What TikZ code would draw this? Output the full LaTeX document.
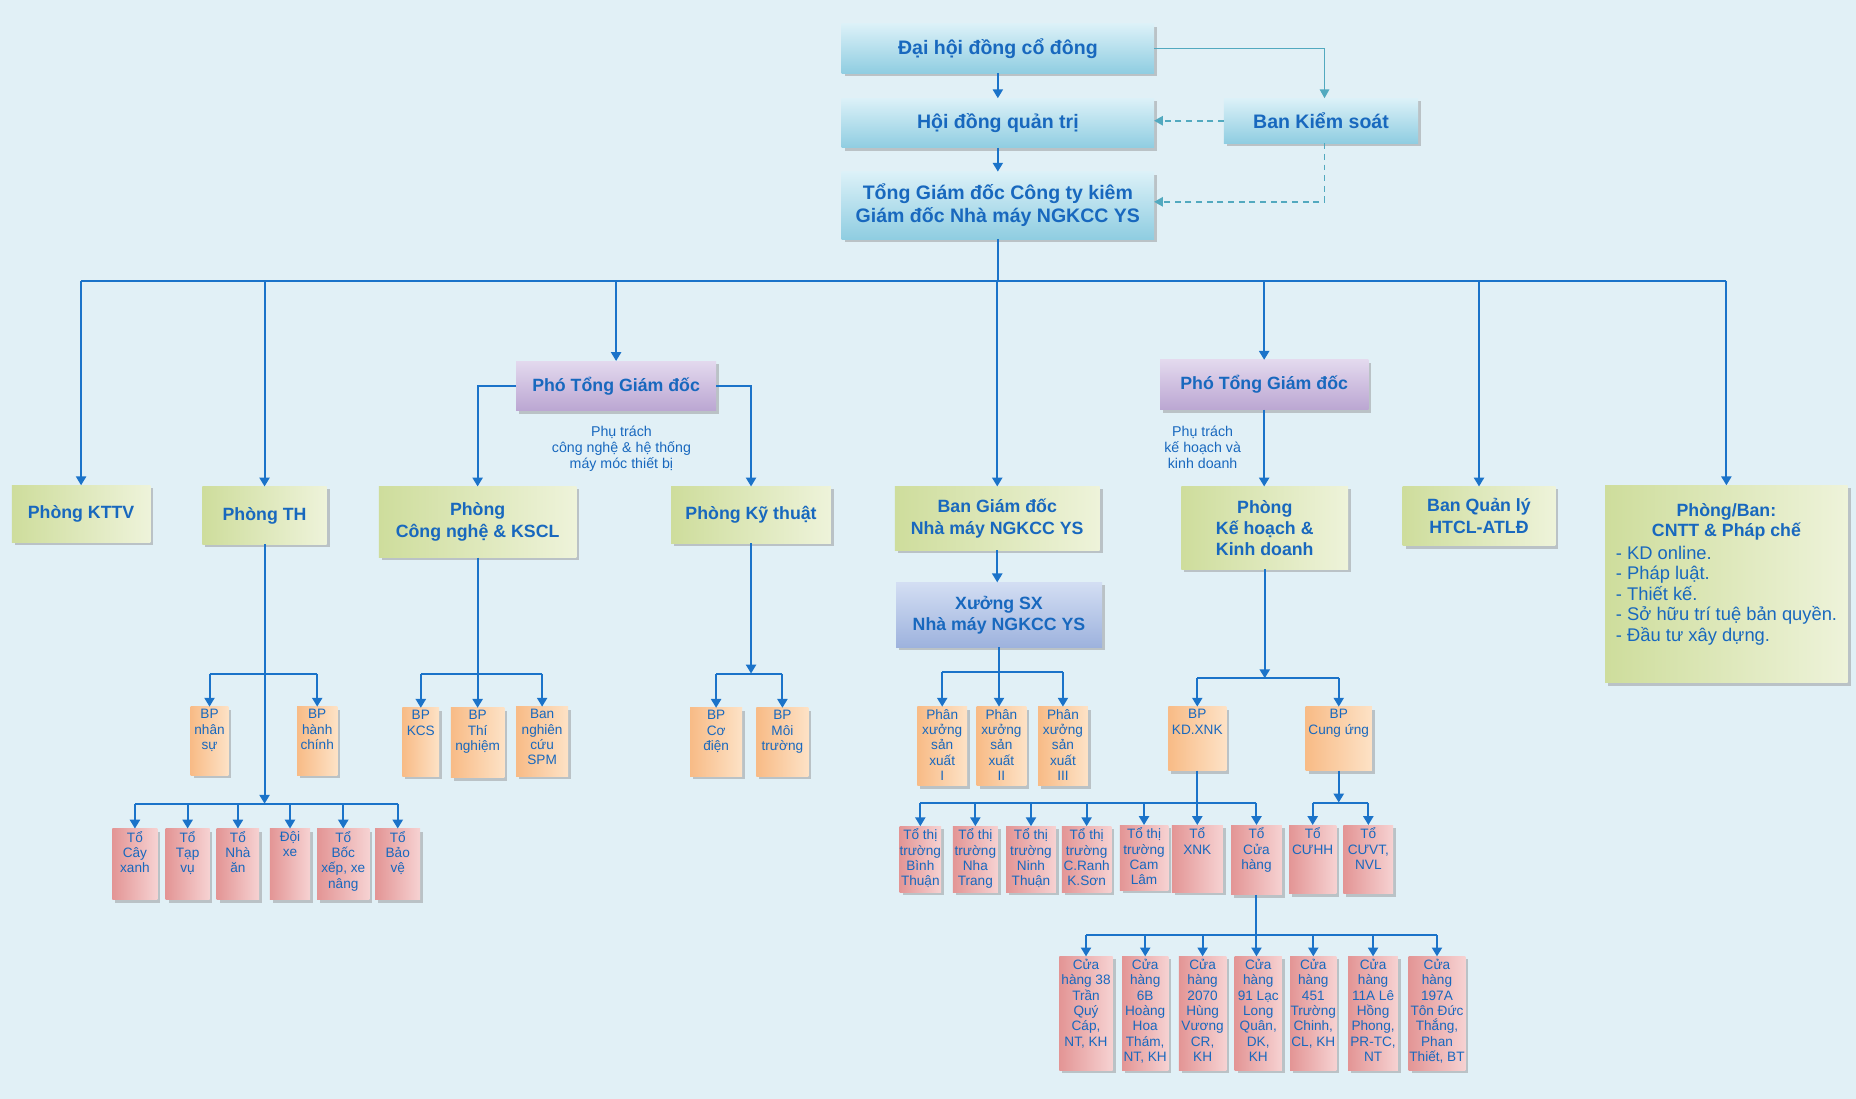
\documentclass[tikz,border=0pt]{standalone}
\usepackage{fontspec}
\setmainfont{Liberation Sans}
\usetikzlibrary{arrows.meta,shadows}
\definecolor{bgc}{HTML}{E1F0F6}
\definecolor{tx}{HTML}{1868BE}
\definecolor{lnc}{HTML}{1B73C9}
\definecolor{ksc}{HTML}{52A9BF}
\definecolor{cyL}{HTML}{DCF1F8}
\definecolor{cyD}{HTML}{8FCDE1}
\definecolor{grL}{HTML}{EEF3DA}
\definecolor{grD}{HTML}{CEDD9C}
\definecolor{puL}{HTML}{E3D9EE}
\definecolor{puD}{HTML}{BBA6D2}
\definecolor{blL}{HTML}{D3DEF3}
\definecolor{blD}{HTML}{9DB2DD}
\definecolor{orL}{HTML}{FDE2C6}
\definecolor{orD}{HTML}{F8BB86}
\definecolor{piL}{HTML}{F6D2D2}
\definecolor{piD}{HTML}{E39595}
\newcommand\bxn[7]{\node[#2,minimum width=#5pt-#3pt,minimum height=#6pt-#4pt] (#1) at ({(#3+#5)/2},{(#4+#6)/2}) {#7};}
\newcommand\sbxn[7]{\node[#2,minimum width=#5pt-#3pt,minimum height=#6pt-#4pt] (#1) at ({(#3+#5)/2},{(#4+#6)/2}) {};\node[smalltxt,anchor=north] (#1t) at ([yshift=-2pt]#1.north) {#7};}
\tikzset{
  bxs/.style={inner sep=0pt, outer sep=0pt, text=tx, align=center,
    drop shadow={shadow xshift=2.5pt,shadow yshift=-2.5pt,opacity=0.45,fill=black!45}},
  topbox/.style={bxs, top color=cyL, bottom color=cyD, font=\fontsize{16.5}{19}\selectfont\bfseries},
  grbox/.style={bxs, left color=grD, right color=grL, font=\fontsize{15}{18}\selectfont\bfseries},
  pubox/.style={bxs, top color=puL, bottom color=puD, font=\fontsize{15}{18}\selectfont\bfseries},
  blbox/.style={bxs, top color=blL, bottom color=blD, font=\fontsize{15}{18}\selectfont\bfseries},
  orbox/.style={bxs, left color=orD, right color=orL},
  pibox/.style={bxs, left color=piD, right color=piL},
  smalltxt/.style={inner sep=0pt, text=tx, align=center, font=\fontsize{11.5}{13}\selectfont},
  grtxt/.style={inner sep=0pt, text=tx, font=\fontsize{15.5}{17.3}\selectfont},
  notetxt/.style={inner sep=0pt, text=tx, align=center, font=\fontsize{12}{13.5}\selectfont},
  ln/.style={draw=lnc, line width=1.7pt},
  arr/.style={ln, -{Triangle[width=8.5pt,length=7.5pt]}},
  ksl/.style={draw=ksc, line width=1.3pt, -{Triangle[width=8pt,length=7.5pt]}},
}
\begin{document}
\begin{tikzpicture}[x=1pt,y=-1pt]
\useasboundingbox (0,0) rectangle (1568,928.4);
\fill[bgc] (0,0) rectangle (1568,928.4);

% top level
\bxn{dh}{topbox}{711}{20}{975}{62}{Đại hội đồng cổ đông}
\bxn{hd}{topbox}{711}{83}{975}{125}{Hội đồng quản trị}
\bxn{bks}{topbox}{1034}{83}{1198}{121}{Ban Kiểm soát}
\bxn{tgd}{topbox}{711}{145}{975}{202}{Tổng Giám đốc Công ty kiêm\\Giám đốc Nhà máy NGKCC YS}

\draw[arr] (dh) -- (hd);
\draw[arr] (hd) -- (tgd);
\draw[ksl] (dh.east) -| ([xshift=3pt]bks.north);
\draw[ksl,dash pattern=on 5pt off 4pt] (bks.west) -- (bks.west -| hd.east);
\draw[ksl,dash pattern=on 5pt off 4pt] ([xshift=3pt]bks.south) |- ([yshift=3pt]tgd.east);

% second level
\bxn{kttv}{grbox}{10}{410}{127}{458}{Phòng KTTV}
\bxn{th}{grbox}{171}{411}{276}{460}{Phòng TH}
\bxn{ptgd1}{pubox}{436}{305}{605}{347}{Phó Tổng Giám đốc}
\bxn{bgd}{grbox}{756}{411}{929}{465}{Ban Giám đốc\\Nhà máy NGKCC YS}
\bxn{ptgd2}{pubox}{980}{304}{1156}{346}{Phó Tổng Giám đốc}
\bxn{bql}{grbox}{1185}{411}{1314}{461}{Ban Quản lý\\HTCL-ATLĐ}
\bxn{cntt}{grbox}{1356}{410}{1561}{577}{}
\node[grtxt,align=center,anchor=north,font=\fontsize{15}{17.3}\selectfont\bfseries] (cntth) at ([yshift=-15pt]cntt.north) {Phòng/Ban:\\CNTT \& Pháp chế};
\node[grtxt,align=left,anchor=north west] (cnttl) at (1365,461) {- KD online.\\- Pháp luật.\\- Thiết kế.\\- Sở hữu trí tuệ bản quyền.\\- Đầu tư xây dựng.};
\bxn{cnkscl}{grbox}{320}{411}{487}{471}{Phòng\\Công nghệ \& KSCL}
\bxn{kt}{grbox}{567}{411}{702}{459}{Phòng Kỹ thuật}
\bxn{khkd}{grbox}{998}{411}{1139}{481}{Phòng\\Kế hoạch \&\\Kinh doanh}
\bxn{xsx}{blbox}{757}{492}{931}{547}{Xưởng SX\\Nhà máy NGKCC YS}

\node[notetxt] (n1) at (525,379) {Phụ trách\\công nghệ \& hệ thống\\máy móc thiết bị};
\node[notetxt] (n2) at (1016,378) {Phụ trách\\kế hoạch và\\kinh doanh};

\coordinate (bus) at (843,237);
\draw[ln] (tgd.south) -- (bus);
\draw[ln] (kttv.north |- bus) -- (cntt.north |- bus);
\foreach \n in {kttv,th,ptgd1,bgd,ptgd2,bql,cntt} \draw[arr] (\n.north |- bus) -- (\n.north);
\draw[arr] (ptgd1.west) -| (cnkscl.north);
\draw[arr] (ptgd1.east) -| (kt.north);
\draw[arr] (ptgd2.south) -- (ptgd2.south |- khkd.north);
\draw[arr] (bgd.south) -- (bgd.south |- xsx.north);

% Phong TH subtree
\sbxn{nhansu}{orbox}{161}{597}{193}{655}{BP\\nhân\\sự}
\sbxn{hanhchinh}{orbox}{251}{597}{285}{655}{BP\\hành\\chính}
\sbxn{cayxanh}{pibox}{95}{700}{133}{760}{Tổ\\Cây\\xanh}
\sbxn{tapvu}{pibox}{140}{700}{177}{760}{Tổ\\Tạp\\vụ}
\sbxn{nhaan}{pibox}{183}{700}{219}{760}{Tổ\\Nhà\\ăn}
\sbxn{doixe}{pibox}{228}{700}{262}{760}{Đội\\xe}
\sbxn{bocxep}{pibox}{268}{700}{312}{760}{Tổ\\Bốc\\xếp, xe\\nâng}
\sbxn{baove}{pibox}{317}{700}{355}{760}{Tổ\\Bảo\\vệ}
\coordinate (thbr) at (223.5,569);
\coordinate (thbus) at (223.5,679);
\draw[arr] (th.south) -- (thbus);
\draw[ln] (nhansu.north |- thbr) -- (hanhchinh.north |- thbr);
\foreach \n in {nhansu,hanhchinh} \draw[arr] (\n.north |- thbr) -- (\n.north);
\draw[ln] (cayxanh.north |- thbus) -- (baove.north |- thbus);
\foreach \n in {cayxanh,tapvu,nhaan,doixe,bocxep,baove} \draw[arr] (\n.north |- thbus) -- (\n.north);

% Cong nghe subtree
\sbxn{kcs}{orbox}{340}{598}{371}{656}{BP\\KCS}
\sbxn{thinghiem}{orbox}{381}{598}{426}{657}{BP\\Thí\\nghiệm}
\sbxn{spm}{orbox}{436}{597}{480}{656}{Ban\\nghiên\\cứu\\SPM}
\coordinate (cnbr) at (403.5,569);
\draw[arr] (cnkscl.south) -- (thinghiem.north);
\draw[ln] (kcs.north |- cnbr) -- (spm.north |- cnbr);
\foreach \n in {kcs,spm} \draw[arr] (\n.north |- cnbr) -- (\n.north);

% Ky thuat subtree
\sbxn{codien}{orbox}{583}{598}{627}{656}{BP\\Cơ\\điện}
\sbxn{moitruong}{orbox}{639}{598}{683}{656}{BP\\Môi\\trường}
\coordinate (ktbr) at (634.5,569);
\draw[arr] (kt.south) -- (ktbr);
\draw[ln] (codien.north |- ktbr) -- (moitruong.north |- ktbr);
\foreach \n in {codien,moitruong} \draw[arr] (\n.north |- ktbr) -- (\n.north);

% Xuong SX subtree
\sbxn{px1}{orbox}{775}{597}{817}{664}{Phân\\xưởng\\sản\\xuất\\I}
\sbxn{px2}{orbox}{825}{597}{867}{664}{Phân\\xưởng\\sản\\xuất\\II}
\sbxn{px3}{orbox}{877}{597}{919}{664}{Phân\\xưởng\\sản\\xuất\\III}
\coordinate (xbr) at (844,568);
\draw[arr] (xsx.south) -- (xsx.south |- px2.north);
\draw[ln] (px1.north |- xbr) -- (px3.north |- xbr);
\foreach \n in {px1,px3} \draw[arr] (\n.north |- xbr) -- (\n.north);

% KHKD subtree
\sbxn{kdxnk}{orbox}{987}{597}{1036}{651}{BP\\KD.XNK}
\sbxn{cungung}{orbox}{1103}{597}{1159}{651}{BP\\Cung ứng}
\coordinate (kbr) at (1068.5,573);
\draw[arr] (khkd.south) -- (kbr);
\draw[ln] (kdxnk.north |- kbr) -- (cungung.north |- kbr);
\foreach \n in {kdxnk,cungung} \draw[arr] (\n.north |- kbr) -- (\n.north);

% KD.XNK subtree
\sbxn{tt1}{pibox}{760}{698}{795}{754}{Tổ thị\\trường\\Bình\\Thuận}
\sbxn{tt2}{pibox}{805}{698}{843}{754}{Tổ thị\\trường\\Nha\\Trang}
\sbxn{tt3}{pibox}{850}{698}{892}{754}{Tổ thị\\trường\\Ninh\\Thuận}
\sbxn{tt4}{pibox}{897}{698}{939}{754}{Tổ thị\\trường\\C.Ranh\\K.Sơn}
\sbxn{tt5}{pibox}{946}{697}{987}{752}{Tổ thị\\trường\\Cam\\Lâm}
\sbxn{toxnk}{pibox}{990}{697}{1033}{754}{Tổ\\XNK}
\sbxn{cuahang}{pibox}{1040}{697}{1083}{756}{Tổ\\Cửa\\hàng}
\coordinate (xbus) at (1011.5,678);
\draw[arr] (kdxnk.south) -- (toxnk.north);
\draw[ln] (tt1.north |- xbus) -- (cuahang.north |- xbus);
\foreach \n in {tt1,tt2,tt3,tt4,tt5,cuahang} \draw[arr] (\n.north |- xbus) -- (\n.north);

% Cung ung subtree
\sbxn{cuhh}{pibox}{1089}{697}{1129}{755}{Tổ\\CƯHH}
\sbxn{cuvt}{pibox}{1135}{697}{1177}{755}{Tổ\\CƯVT,\\NVL}
\coordinate (cbus) at (1131,678);
\draw[arr] (cungung.south) -- (cbus);
\draw[ln] (cuhh.north |- cbus) -- (cuvt.north |- cbus);
\foreach \n in {cuhh,cuvt} \draw[arr] (\n.north |- cbus) -- (\n.north);

% Cua hang subtree
\sbxn{ch1}{pibox}{895}{808}{940}{904}{Cửa\\hàng 38\\Trần\\Quý\\Cáp,\\NT, KH}
\sbxn{ch2}{pibox}{948}{808}{987}{904}{Cửa\\hàng\\6B\\Hoàng\\Hoa\\Thám,\\NT, KH}
\sbxn{ch3}{pibox}{996}{808}{1036}{904}{Cửa\\hàng\\2070\\Hùng\\Vương\\CR,\\KH}
\sbxn{ch4}{pibox}{1043}{808}{1083}{904}{Cửa\\hàng\\91 Lạc\\Long\\Quân,\\DK,\\KH}
\sbxn{ch5}{pibox}{1090}{808}{1129}{904}{Cửa\\hàng\\451\\Trường\\Chinh,\\CL, KH}
\sbxn{ch6}{pibox}{1139}{808}{1181}{904}{Cửa\\hàng\\11A Lê\\Hồng\\Phong,\\PR-TC,\\NT}
\sbxn{ch7}{pibox}{1190}{808}{1238}{904}{Cửa\\hàng\\197A\\Tôn Đức\\Thắng,\\Phan\\Thiết, BT}
\coordinate (sbus) at (1061.5,790);
\draw[arr] (cuahang.south) -- (cuahang.south |- ch4.north);
\draw[ln] (ch1.north |- sbus) -- (ch7.north |- sbus);
\foreach \n in {ch1,ch2,ch3,ch5,ch6,ch7} \draw[arr] (\n.north |- sbus) -- (\n.north);
\end{tikzpicture}
\end{document}
